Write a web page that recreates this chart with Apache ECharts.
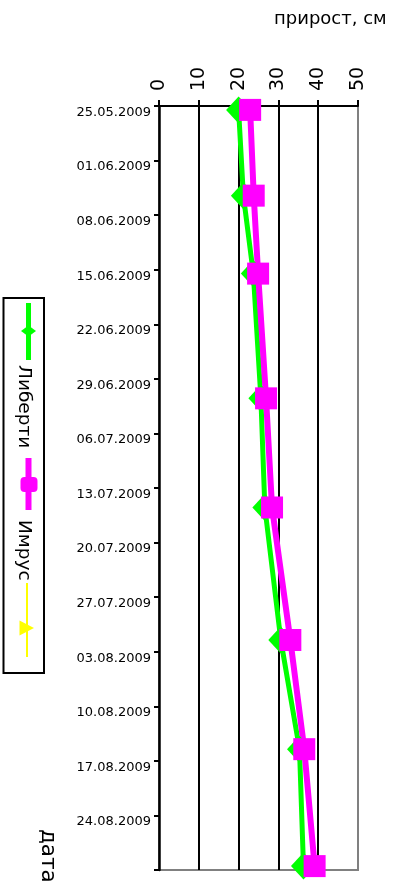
<!DOCTYPE html>
<html>
<head>
<meta charset="utf-8">
<script src="https://cdn.jsdelivr.net/npm/echarts@6/dist/echarts.min.js"></script>
<style>
  html, body { margin: 0; padding: 0; background: #fff; }
  #chart { width: 399px; height: 888px; }
</style>
</head>
<body>
<div id="chart"></div>
<script>
// Growth measurements (cm) of two varieties over the 2009 season
const axisStart = '25.05.2009';
const axisEnd = '31.08.2009';
const dateTicks = ['25.05.2009', '01.06.2009', '08.06.2009', '15.06.2009', '22.06.2009',
  '29.06.2009', '06.07.2009', '13.07.2009', '20.07.2009', '27.07.2009',
  '03.08.2009', '10.08.2009', '17.08.2009', '24.08.2009'];
const valueTicks = [0, 10, 20, 30, 40, 50];
const measureDates = ['25.05.2009', '05.06.2009', '15.06.2009', '01.07.2009',
  '15.07.2009', '01.08.2009', '15.08.2009', '30.08.2009'];
const seriesNames = ['Либерти', 'Имрус'];
const liberty = [20.0, 21.2, 23.7, 25.6, 26.6, 30.6, 35.3, 36.3];
const imrus = [22.9, 23.8, 24.9, 26.9, 28.4, 33.0, 36.5, 39.1];

const FONT = 'DejaVu Sans';

function dayIndex(s) {
  const [d, m, y] = s.split('.').map(Number);
  const [d0, m0, y0] = axisStart.split('.').map(Number);
  return Math.round((Date.UTC(y, m - 1, d) - Date.UTC(y0, m0 - 1, d0)) / 864e5);
}
// each measurement sits in the middle of its day on the date axis
const toPoints = vals => measureDates.map((d, i) => [vals[i], dayIndex(d) + 0.5]);

const chart = echarts.init(document.getElementById('chart'), null, { renderer: 'canvas' });

const option = {
  backgroundColor: '#fff',
  animation: false,
  grid: {
    left: 159, top: 106, width: 199, height: 764,
    show: true, borderColor: '#808080', borderWidth: 2, backgroundColor: 'transparent'
  },
  xAxis: {
    type: 'value', position: 'top',
    min: valueTicks[0], max: valueTicks[valueTicks.length - 1], interval: valueTicks[1] - valueTicks[0],
    axisLine: { show: true, onZero: false, lineStyle: { color: '#000', width: 2 } },
    axisTick: { show: true, inside: false, length: 6, lineStyle: { color: '#000', width: 2 } },
    axisLabel: { rotate: -90, margin: 15, fontFamily: FONT, fontSize: 19, color: '#000' },
    splitLine: { show: true, showMinLine: false, showMaxLine: false, lineStyle: { color: '#000', width: 2 } }
  },
  yAxis: {
    type: 'value', inverse: true,
    min: 0, max: dayIndex(axisEnd), interval: 7,
    axisLine: { show: true, onZero: false, lineStyle: { color: '#000', width: 2.5 } },
    axisTick: { show: true, inside: false, length: 5, lineStyle: { color: '#000', width: 2 } },
    axisLabel: {
      margin: 8, fontFamily: FONT, fontSize: 13, color: '#000', verticalAlign: 'top',
      formatter: v => dateTicks[v / 7] || ''
    },
    splitLine: { show: false }
  },
  series: [
    {
      name: seriesNames[0], type: 'line', data: toPoints(liberty),
      lineStyle: { color: '#00ff00', width: 5 },
      itemStyle: { color: '#00ff00' },
      symbol: 'diamond', symbolSize: [25, 27], showAllSymbol: true
    },
    {
      name: seriesNames[1], type: 'line', data: toPoints(imrus),
      lineStyle: { color: '#ff00ff', width: 6 },
      itemStyle: { color: '#ff00ff' },
      symbol: 'rect', symbolSize: 22, showAllSymbol: true
    }
  ],
  graphic: [
    // axis title
    { type: 'text', left: 274, top: 10,
      style: { text: 'прирост, см', fontFamily: FONT, fontSize: 18, fill: '#000' } },
    // date axis title, written downwards
    { type: 'text', x: 48, y: 829, rotation: -Math.PI / 2,
      style: { text: 'дата', fontFamily: FONT, fontSize: 21.5, fill: '#000', align: 'left', verticalAlign: 'middle' } },
    // legend frame
    { type: 'rect', shape: { x: 3.5, y: 298, width: 40.5, height: 375 },
      style: { fill: '#fff', stroke: '#000', lineWidth: 2 }, z: 1 },
    // Либерти key
    { type: 'line', shape: { x1: 28.5, y1: 303, x2: 28.5, y2: 360 },
      style: { stroke: '#00ff00', lineWidth: 5 }, z: 2 },
    { type: 'polygon', shape: { points: [[21, 331], [28.5, 325.5], [36, 331], [28.5, 336.5]] },
      style: { fill: '#00ff00' }, z: 2 },
    { type: 'text', x: 24, y: 365, rotation: -Math.PI / 2, z: 2,
      style: { text: seriesNames[0], fontFamily: FONT, fontSize: 18.5, fill: '#000', align: 'left', verticalAlign: 'middle' } },
    // Имрус key
    { type: 'line', shape: { x1: 28.5, y1: 458, x2: 28.5, y2: 510 },
      style: { stroke: '#ff00ff', lineWidth: 6 }, z: 2 },
    { type: 'rect', shape: { x: 20.5, y: 477, width: 17, height: 15, r: 4 },
      style: { fill: '#ff00ff' }, z: 2 },
    { type: 'text', x: 24, y: 520, rotation: -Math.PI / 2, z: 2,
      style: { text: seriesNames[1], fontFamily: FONT, fontSize: 18.5, fill: '#000', align: 'left', verticalAlign: 'middle' } },
    // third key (no values)
    { type: 'line', shape: { x1: 27, y1: 583, x2: 27, y2: 657 },
      style: { stroke: '#ffff00', lineWidth: 2 }, z: 2 },
    { type: 'polygon', shape: { points: [[19.5, 620.5], [34, 628], [19.5, 635.5]] },
      style: { fill: '#ffff00' }, z: 2 }
  ]
};

chart.setOption(option);
</script>
</body>
</html>
